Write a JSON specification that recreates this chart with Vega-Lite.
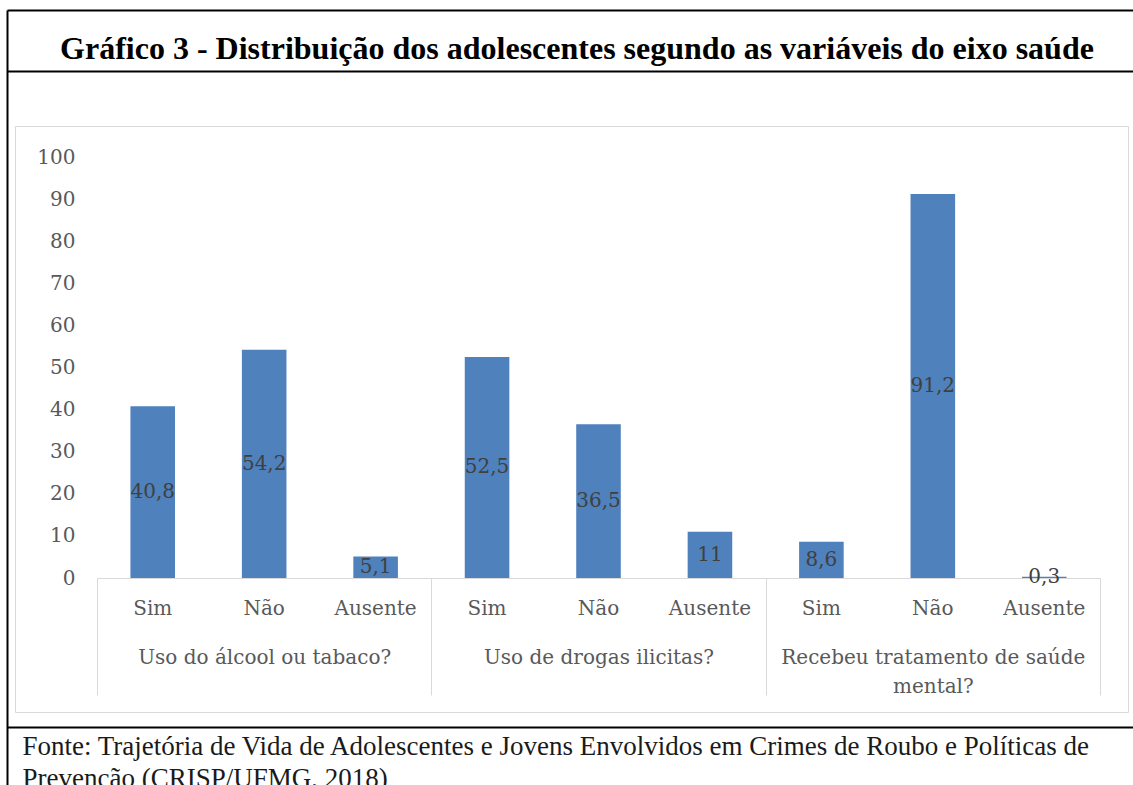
{
  "$schema": "https://vega.github.io/schema/vega-lite/v6.json",
  "autosize": {"type": "none"},
  "padding": {"left": 15, "top": 126, "right": 5, "bottom": 73},
  "width": 1113,
  "height": 586,
  "background": "white",
  "view": {"stroke": "#D9D9D9", "strokeWidth": 1},
  "config": {
    "locale": {"number": {"decimal": ",", "thousands": ".", "grouping": [3], "currency": ["R$", ""]}},
    "axis": {"grid": false, "labelLimit": 500}
  },
  "title": {
    "text": "Gráfico 3 - Distribuição dos adolescentes segundo as variáveis do eixo saúde",
    "frame": "group",
    "anchor": "middle",
    "orient": "top",
    "baseline": "alphabetic",
    "offset": -81,
    "dx": 5.5,
    "font": "Liberation Serif",
    "fontSize": 32,
    "fontWeight": "bold",
    "color": "black"
  },
  "data": {"values": [
    {"grupo": "Uso do álcool ou tabaco?", "cat": "Sim", "v": 40.8},
    {"grupo": "Uso do álcool ou tabaco?", "cat": "Não", "v": 54.2},
    {"grupo": "Uso do álcool ou tabaco?", "cat": "Ausente", "v": 5.1},
    {"grupo": "Uso de drogas ilicitas?", "cat": "Sim", "v": 52.5},
    {"grupo": "Uso de drogas ilicitas?", "cat": "Não", "v": 36.5},
    {"grupo": "Uso de drogas ilicitas?", "cat": "Ausente", "v": 11},
    {"grupo": "Recebeu tratamento de saúde mental?", "cat": "Sim", "v": 8.6},
    {"grupo": "Recebeu tratamento de saúde mental?", "cat": "Não", "v": 91.2},
    {"grupo": "Recebeu tratamento de saúde mental?", "cat": "Ausente", "v": 0.3}
  ]},
  "transform": [
    {"calculate": "datum.grupo + '|' + datum.cat", "as": "k"},
    {"calculate": "datum.v / 2", "as": "meio"}
  ],
  "layer": [
    {
      "mark": {"type": "bar", "color": "#4F81BD"},
      "encoding": {
        "x": {
          "field": "k", "type": "nominal", "sort": null, "title": null,
          "scale": {"type": "band", "range": [82, 1085], "paddingInner": 0.6, "paddingOuter": 0.3},
          "axis": {"orient": "bottom", "offset": -134, "ticks": false, "domainColor": "#D9D9D9", "domainWidth": 1, "labelPadding": 20, "labelAngle": 0, "labelBaseline": "top", "labelFont": "DejaVu Serif", "labelFontSize": 20, "labelColor": "#595959", "labelExpr": "split(datum.label, '|')[1]"}
        },
        "y": {
          "field": "v", "type": "quantitative", "title": null,
          "scale": {"domain": [0, 100], "range": [452, 31], "nice": false},
          "axis": {"orient": "left", "offset": -82, "values": [0, 10, 20, 30, 40, 50, 60, 70, 80, 90, 100], "ticks": false, "domain": false, "labelPadding": 22, "labelFont": "DejaVu Serif", "labelFontSize": 20, "labelColor": "#595959"}
        }
      }
    },
    {
      "mark": {"type": "text", "font": "DejaVu Serif", "fontSize": 20, "color": "#404040", "baseline": "middle"},
      "encoding": {
        "x": {
          "field": "k", "type": "nominal", "sort": null, "title": null,
          "scale": {"type": "band", "range": [82, 1085], "paddingInner": 0.6, "paddingOuter": 0.3},
          "axis": null
        },
        "y": {
          "field": "meio", "type": "quantitative", "title": null,
          "scale": {"domain": [0, 100], "range": [452, 31], "nice": false},
          "axis": null
        },
        "text": {"field": "v", "type": "quantitative", "format": ".1~f"}
      }
    },
    {
      "mark": {"type": "point", "opacity": 0},
      "encoding": {
        "x": {
          "field": "grupo", "type": "nominal", "sort": null, "title": null,
          "scale": {"type": "band", "range": [82, 1085], "paddingInner": 0, "paddingOuter": 0},
          "axis": {"orient": "bottom", "offset": -134, "domain": false, "ticks": true, "tickBand": "extent", "tickSize": 117, "tickColor": "#D9D9D9", "tickWidth": 1, "labelPadding": -48, "labelAngle": 0, "labelBaseline": "top", "labelFont": "DejaVu Serif", "labelFontSize": 20, "labelColor": "#595959", "labelLineHeight": 29, "labelExpr": "datum.label == 'Recebeu tratamento de saúde mental?' ? ['Recebeu tratamento de saúde', 'mental?'] : datum.label"}
        },
        "y": {
          "field": "v", "type": "quantitative", "title": null,
          "scale": {"domain": [0, 100], "range": [664, -116], "nice": false, "zero": false},
          "axis": {"orient": "left", "offset": 8, "domain": true, "domainColor": "black", "domainWidth": 2, "ticks": false, "labels": false}
        }
      }
    },
    {
      "mark": {"type": "point", "opacity": 0},
      "encoding": {
        "x": {
          "field": "v", "type": "quantitative", "title": null,
          "scale": {"domain": [0, 100], "range": [-8, 1140], "nice": false, "zero": false},
          "axis": {"orient": "top", "offset": 116, "domain": true, "domainColor": "black", "domainWidth": 2, "ticks": false, "labels": false}
        }
      }
    },
    {
      "mark": {"type": "point", "opacity": 0},
      "encoding": {
        "x": {
          "field": "v", "type": "quantitative", "title": null,
          "scale": {"domain": [0, 100], "range": [-8, 1140], "nice": false, "zero": false},
          "axis": {"orient": "top", "offset": 55, "domain": true, "domainColor": "black", "domainWidth": 2, "ticks": false, "labels": false}
        }
      }
    },
    {
      "mark": {"type": "point", "opacity": 0},
      "encoding": {
        "x": {
          "field": "v", "type": "quantitative",
          "title": ["Fonte: Trajetória de Vida de Adolescentes e Jovens Envolvidos em Crimes de Roubo e Políticas de", "Prevenção (CRISP/UFMG, 2018)"],
          "scale": {"domain": [0, 100], "range": [-8, 1140], "nice": false, "zero": false},
          "axis": {"orient": "bottom", "offset": 15, "domain": true, "domainColor": "black", "domainWidth": 2, "ticks": false, "labels": false, "titleFont": "Liberation Serif", "titleFontSize": 27, "titleFontWeight": "normal", "titleColor": "#1a1a1a", "titleAnchor": "start", "titleAlign": "left", "titleBaseline": "alphabetic", "titleLineHeight": 32, "titleX": 7, "titleY": 27, "titleLimit": 2000}
        }
      }
    }
  ],
  "resolve": {"scale": {"x": "independent", "y": "independent"}, "axis": {"x": "independent", "y": "independent"}}
}
